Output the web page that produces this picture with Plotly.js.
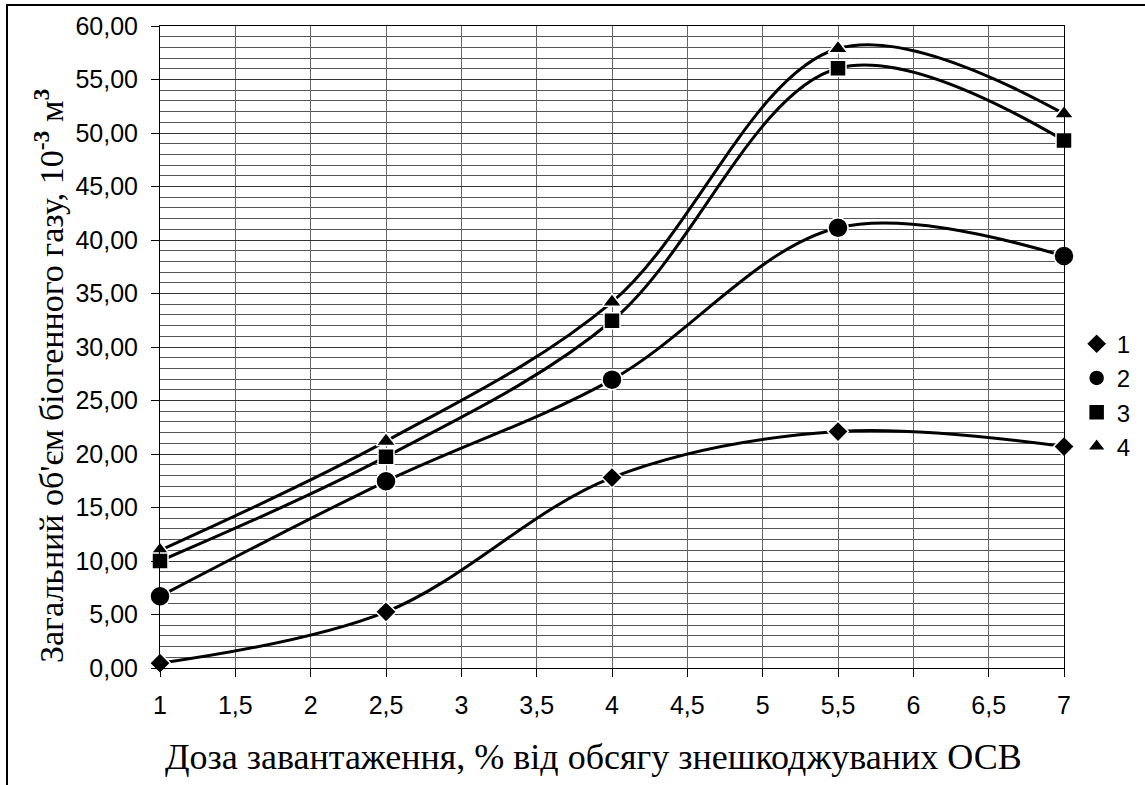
<!DOCTYPE html>
<html>
<head>
<meta charset="utf-8">
<script src="https://cdn.plot.ly/plotly-3.0.1.min.js"></script>
<style>
  html, body { margin: 0; padding: 0; background: #fff; }
  #wrap { position: relative; width: 1145px; height: 785px; }
  #chart { position: absolute; left: 0; top: 0; width: 1145px; height: 785px; }
  #frame { position: absolute; left: 6px; top: 4px; right: -4px; bottom: -4px;
           border-left: 2px solid #000; border-top: 2px solid #000; pointer-events: none; }
</style>
</head>
<body>
<div id="wrap">
  <div id="chart"></div>
  <div id="frame"></div>
</div>
<script>
// Data
const doses = [1, 2.5, 4, 5.5, 7];
const series1 = [0.45, 5.25, 17.8, 22.1, 20.7];
const series2 = [6.7, 17.45, 26.95, 41.15, 38.5];
const series3 = [10.0, 19.75, 32.45, 56.05, 49.3];
const series4 = [11.0, 21.2, 34.2, 57.9, 51.8];
const seriesNames = ['1', '2', '3', '4'];

const xTitle = 'Доза завантаження, % від обсягу знешкоджуваних ОСВ';
const yTitle = "Загальний об'єм біогенного газу, 10<sup><b>-3</b></sup> м<sup><b>3</b></sup>";

function lineTrace(name, y) {
  return {
    x: doses, y: y, name: name, type: 'scatter', mode: 'lines',
    line: { color: '#000', width: 3, shape: 'spline', smoothing: 1 },
    showlegend: false, cliponaxis: false
  };
}
function markTrace(name, y, symbol, size, rank) {
  return {
    x: doses, y: y, name: name, type: 'scatter', mode: 'markers',
    legendrank: rank,
    marker: { symbol: symbol, size: size, color: '#000', line: { color: '#fff', width: 1.5 } },
    cliponaxis: false
  };
}

const traces = [
  lineTrace(seriesNames[3], series4), markTrace(seriesNames[3], series4, 'triangle-up', 17, 4),
  lineTrace(seriesNames[2], series3), markTrace(seriesNames[2], series3, 'square', 16, 3),
  lineTrace(seriesNames[1], series2), markTrace(seriesNames[1], series2, 'circle', 20, 2),
  lineTrace(seriesNames[0], series1), markTrace(seriesNames[0], series1, 'diamond', 16, 1)
];

const serif = 'Liberation Serif, Times New Roman, serif';
const sans = 'Liberation Sans, Arial, sans-serif';

const layout = {
  width: 1145, height: 785,
  margin: { l: 160, r: 81, t: 26, b: 117, autoexpand: false },
  paper_bgcolor: '#fff', plot_bgcolor: '#fff',
  separators: ', ',
  showlegend: true,
  legend: {
    x: 1.014, y: 0.425, xanchor: 'left', yanchor: 'middle',
    traceorder: 'normal', tracegroupgap: 0,
    font: { family: sans, size: 24, color: '#000' },
    itemwidth: 30, itemsizing: 'trace', bgcolor: 'rgba(0,0,0,0)'
  },
  xaxis: {
    range: [1, 7], dtick: 0.5, tick0: 1, tickformat: '~r',
    showgrid: true, gridcolor: '#666', gridwidth: 1,
    showline: true, linecolor: '#000', linewidth: 1, mirror: true,
    ticks: 'outside', ticklen: 8, tickcolor: '#000',
    tickfont: { family: sans, size: 25, color: '#000' },
    ticklabelstandoff: 7,
    zeroline: false
  },
  yaxis: {
    range: [0, 60], dtick: 5, tick0: 0, tickformat: '.2f',
    showgrid: true, gridcolor: '#333', gridwidth: 1,
    minor: { dtick: 1, showgrid: true, gridcolor: '#555', gridwidth: 1, ticks: '' },
    showline: true, linecolor: '#000', linewidth: 1, mirror: true,
    ticks: 'outside', ticklen: 8, tickcolor: '#000',
    tickfont: { family: sans, size: 25, color: '#000' },
    ticklabelstandoff: 8,
    zeroline: false
  },
  annotations: [
    { text: xTitle, xref: 'paper', yref: 'paper', x: 0.480, y: -0.139,
      xanchor: 'center', yanchor: 'middle', showarrow: false,
      font: { family: serif, size: 36, color: '#000' } },
    { text: yTitle, xref: 'paper', yref: 'paper', x: -0.123, y: 0.456,
      xanchor: 'center', yanchor: 'middle', showarrow: false, textangle: -90,
      font: { family: serif, size: 34, color: '#000' } }
  ]
};

Plotly.newPlot('chart', traces, layout, { displayModeBar: false, staticPlot: true });
</script>
</body>
</html>
